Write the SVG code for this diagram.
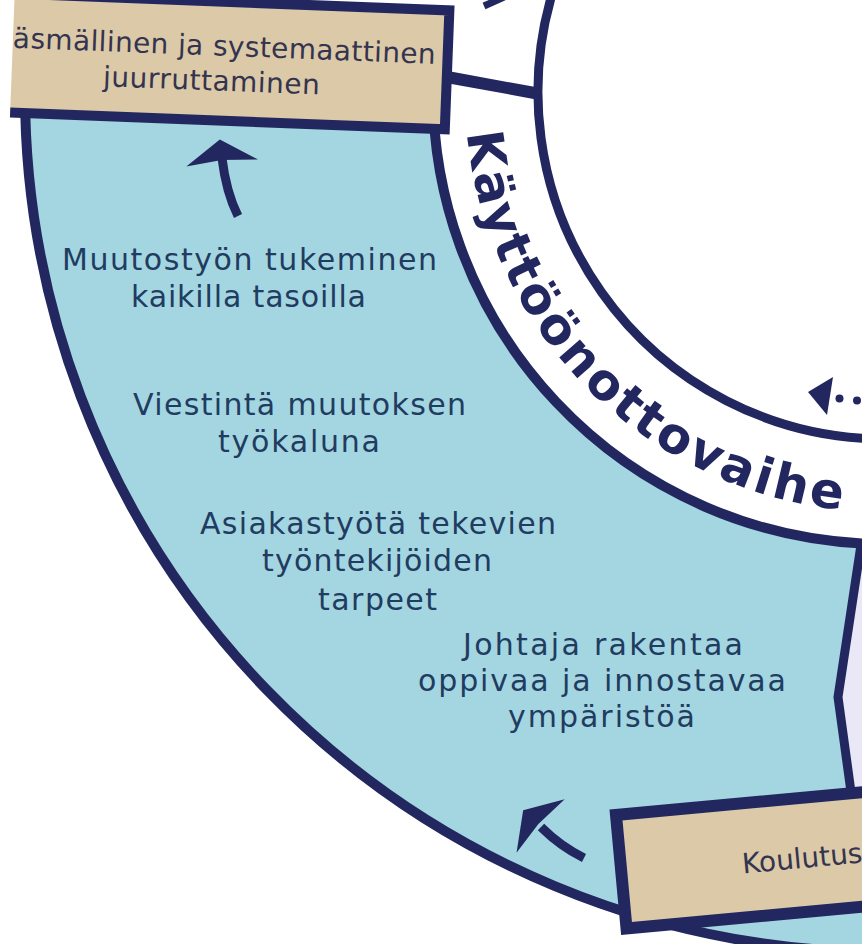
<svg xmlns="http://www.w3.org/2000/svg" width="862" height="944" viewBox="0 0 862 944">
  <defs>
    <style>
      .navy { stroke: #22285f; fill: none; }
      .tan { fill: #dbc9a8; }
      .btxt { font-family: "DejaVu Sans", "Noto Sans", sans-serif; font-size: 30px; fill: #213c60; text-anchor: middle; }
      .boxtxt { font-family: "DejaVu Sans", "Noto Sans", sans-serif; font-size: 28px; fill: #34344f; }
      .ring { font-family: "DejaVu Sans", "Noto Sans", sans-serif; font-weight: bold; font-size: 50px; fill: #22285f; }
      .head { fill: #22285f; }
    </style>
    <path id="ringPath" d="M 467 133 A 420 420 0 0 0 844 510"/>
    <path id="arrowHead" d="M 0 -22 L 36 1.5 L 0 -1.5 L -36 1.5 Z"/>
  </defs>

  <rect width="862" height="944" fill="#ffffff"/>

  <g id="phase-sector">
    <path d="M 25.1 80 A 860 860 0 0 0 870 951.9 L 870 800 L 851 790 L 838 697 L 860 543.3 A 452 452 0 0 1 433.2 80 Z" fill="#a4d6e1"/>
    <path d="M 860 548 L 838 697 L 851 790 L 870 790 L 870 540 Z" fill="#eae8f6"/>
    <path class="navy" stroke-width="10" d="M 25.1 80 A 860 860 0 0 0 870 951.9"/>
    <path class="navy" stroke-width="10" d="M 433.2 80 A 452 452 0 0 0 870 543.8"/>
    <path class="navy" stroke-width="9" d="M 553.3 -10 A 347 347 0 0 0 870 438.7"/>
    <polyline class="navy" stroke-width="9" stroke-linejoin="miter" points="861,545 838,697 851,792"/>
    <text class="btxt" x="249.5" y="270" textLength="375">Muutostyön tukeminen</text>
    <text class="btxt" x="248.5" y="307" textLength="235">kaikilla tasoilla</text>
    <text class="btxt" x="299.5" y="415" textLength="333">Viestintä muutoksen</text>
    <text class="btxt" x="299" y="452" textLength="162">työkaluna</text>
    <text class="btxt" x="378" y="534" textLength="356">Asiakastyötä tekevien</text>
    <text class="btxt" x="377" y="571" textLength="230">työntekijöiden</text>
    <text class="btxt" x="377.5" y="610" textLength="119">tarpeet</text>
    <text class="btxt" x="603" y="655" textLength="280">Johtaja rakentaa</text>
    <text class="btxt" x="602" y="691" textLength="368">oppivaa ja innostavaa</text>
    <text class="btxt" x="601.5" y="727" textLength="187">ympäristöä</text>
  </g>

  <g id="ring-label">
    <text class="ring"><textPath href="#ringPath" textLength="575" lengthAdjust="spacing">Käyttöönottovaihe</textPath></text>
  </g>

  <g id="connectors">
    <line class="navy" stroke-width="12" x1="447" y1="77" x2="540" y2="94"/>
    <line class="navy" stroke-width="7" x1="484" y1="6" x2="504" y2="-3"/>
    <path class="navy" stroke-width="9" d="M 222 158 Q 226 192 238 216"/>
    <use href="#arrowHead" class="head" transform="translate(222 161.5) rotate(-5.7)"/>
    <path class="navy" stroke-width="9" d="M 541 827 Q 560 846 584 858"/>
    <use href="#arrowHead" class="head" transform="translate(539.5 825) rotate(-48)"/>
    <polygon class="head" points="808,392 833,377 827,415"/>
    <circle class="head" cx="839.5" cy="398.5" r="4"/>
    <circle class="head" cx="857" cy="400.5" r="4"/>
  </g>

  <g id="box-juurruttaminen" transform="rotate(2.2 230 68)">
    <rect class="tan" x="12" y="2" width="435" height="119"/>
    <path class="navy" stroke-width="10" d="M 12 2 H 447 V 121 H 12"/>
    <text class="boxtxt" x="12" y="56" textLength="423">äsmällinen ja systemaattinen</text>
    <text class="boxtxt" x="212" y="91" text-anchor="middle" textLength="217">juurruttaminen</text>
  </g>

  <g id="box-koulutus" transform="translate(616 815) rotate(-5.3)">
    <rect class="tan" x="0" y="0" width="300" height="114"/>
    <path class="navy" stroke-width="12" d="M 300 0 H 0 V 114 H 300"/>
    <text class="boxtxt" x="121" y="70" font-size="25">Koulutus</text>
  </g>
</svg>
